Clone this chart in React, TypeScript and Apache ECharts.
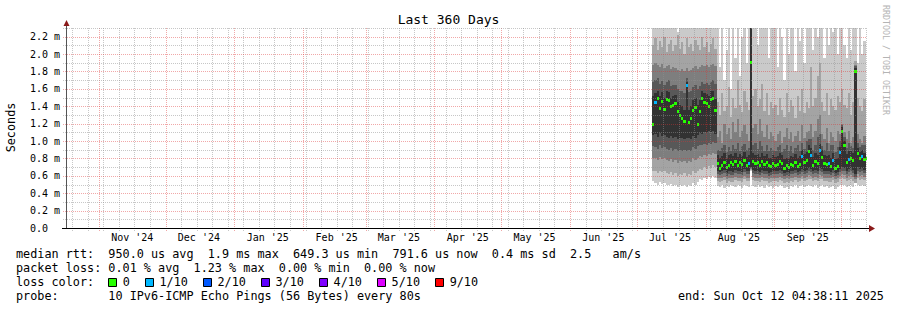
import { useEffect, useRef } from 'react';
import * as echarts from 'echarts';

// ---------------- data ----------------
const TITLE = 'Last 360 Days';
const Y_AXIS_TITLE = 'Seconds';
const WATERMARK = 'RRDTOOL / TOBI OETIKER';
const DAY_MS = 86400000;
const END_TIME = Date.UTC(2025, 9, 12, 4, 38, 11);
const SPAN_DAYS = 360;
const START_TIME = END_TIME - SPAN_DAYS * DAY_MS;
const DATA_START = Date.UTC(2025, 6, 8); // first daily sample

const MONTH_LABELS = ["Nov '24", "Dec '24", "Jan '25", "Feb '25", "Mar '25", "Apr '25", "May '25", "Jun '25", "Jul '25", "Aug '25", "Sep '25"];
const Y_MAX = 2.3; // ms
const Y_TICKS = [0, 0.2, 0.4, 0.6, 0.8, 1.0, 1.2, 1.4, 1.6, 1.8, 2.0, 2.2];

// sorted ping ranks (ms), one value per day, Jul 8 .. Oct 12 2025
const P1 = [
  0.54, 0.52, 0.50, 0.53, 0.51, 0.52, 0.50, 0.49, 0.51, 0.48, 0.50, 0.47, 0.49, 0.48, 0.50, 0.47, 0.49, 0.48, 0.52, 0.50, 0.53, 0.56, 0.55, 0.58, 0.56, 0.59, 0.57, 0.60, 0.58,
  0.48, 0.47, 0.49, 0.46, 0.48, 0.47, 0.49, 0.48, 0.47, 0.49, 0.48, 0.46, 0.49, 0.48, 0.47, 0.66,
  0.48, 0.47, 0.49, 0.47, 0.48, 0.46, 0.49, 0.47, 0.48, 0.46,
  0.48, 0.47, 0.49, 0.48, 0.46, 0.47, 0.45, 0.48, 0.47, 0.49, 0.46, 0.48, 0.49, 0.47, 0.48, 0.49,
  0.48, 0.47, 0.49, 0.46, 0.48, 0.49, 0.47, 0.48, 0.46, 0.47, 0.48, 0.45, 0.47, 0.49,
  0.50, 0.49, 0.47, 0.48, 0.49, 0.47, 0.52, 0.50, 0.48, 0.49, 0.48, 0.49,
];
const P2 = [
  0.66, 0.65, 0.63, 0.66, 0.64, 0.65, 0.63, 0.62, 0.64, 0.61, 0.63, 0.60, 0.62, 0.61, 0.63, 0.60, 0.62, 0.61, 0.65, 0.63, 0.66, 0.68, 0.67, 0.70, 0.68, 0.71, 0.69, 0.72, 0.70,
  0.54, 0.53, 0.54, 0.55, 0.52, 0.54, 0.53, 0.53, 0.55, 0.54, 0.54, 0.53, 0.56, 0.54, 0.54, 0.67,
  0.55, 0.54, 0.54, 0.53, 0.55, 0.54, 0.54, 0.52, 0.53, 0.54,
  0.54, 0.53, 0.55, 0.54, 0.52, 0.53, 0.52, 0.54, 0.53, 0.55, 0.53, 0.54, 0.56, 0.54, 0.55, 0.56,
  0.56, 0.54, 0.55, 0.54, 0.56, 0.56, 0.54, 0.54, 0.53, 0.53, 0.55, 0.52, 0.53, 0.56,
  0.57, 0.56, 0.54, 0.55, 0.56, 0.54, 0.52, 0.57, 0.55, 0.56, 0.55, 0.55,
];
const P3 = [
  0.81, 0.80, 0.78, 0.82, 0.79, 0.80, 0.78, 0.77, 0.79, 0.76, 0.78, 0.75, 0.77, 0.76, 0.77, 0.75, 0.77, 0.76, 0.80, 0.78, 0.81, 0.83, 0.82, 0.84, 0.83, 0.85, 0.84, 0.86, 0.85,
  0.58, 0.57, 0.58, 0.59, 0.56, 0.58, 0.57, 0.57, 0.59, 0.58, 0.58, 0.57, 0.60, 0.58, 0.58, 0.68,
  0.59, 0.58, 0.58, 0.57, 0.59, 0.58, 0.58, 0.56, 0.57, 0.58,
  0.58, 0.58, 0.59, 0.58, 0.56, 0.57, 0.56, 0.58, 0.58, 0.59, 0.57, 0.58, 0.60, 0.58, 0.59, 0.61,
  0.60, 0.58, 0.59, 0.58, 0.61, 0.60, 0.58, 0.58, 0.58, 0.57, 0.59, 0.56, 0.57, 0.60,
  0.62, 0.61, 0.58, 0.60, 0.61, 0.59, 0.56, 0.62, 0.60, 0.61, 0.59, 0.60,
];
const P4 = [
  0.94, 0.93, 0.91, 0.95, 0.92, 0.93, 0.91, 0.90, 0.92, 0.89, 0.91, 0.88, 0.90, 0.89, 0.90, 0.88, 0.90, 0.89, 0.93, 0.91, 0.94, 0.96, 0.95, 0.97, 0.96, 0.98, 0.97, 0.99, 0.98,
  0.62, 0.61, 0.62, 0.63, 0.60, 0.62, 0.61, 0.61, 0.63, 0.62, 0.62, 0.61, 0.64, 0.62, 0.62, 0.69,
  0.63, 0.62, 0.62, 0.61, 0.63, 0.62, 0.62, 0.60, 0.61, 0.62,
  0.62, 0.62, 0.63, 0.62, 0.60, 0.61, 0.60, 0.62, 0.62, 0.63, 0.61, 0.62, 0.64, 0.62, 0.63, 0.65,
  0.64, 0.62, 0.63, 0.62, 0.65, 0.64, 0.62, 0.62, 0.62, 0.61, 0.63, 0.60, 0.61, 0.64,
  0.66, 0.65, 0.62, 0.64, 0.65, 0.63, 0.59, 0.66, 0.64, 0.65, 0.63, 0.64,
];
const P5 = [
  1.07, 1.08, 1.05, 1.09, 1.06, 1.07, 1.05, 1.04, 1.06, 1.03, 1.05, 1.02, 1.04, 1.03, 1.02, 1.04, 1.03, 1.02, 1.06, 1.04, 1.07, 1.09, 1.08, 1.10, 1.09, 1.11, 1.10, 1.12, 1.08,
  0.66, 0.64, 0.65, 0.67, 0.63, 0.66, 0.65, 0.64, 0.67, 0.65, 0.66, 0.64, 0.68, 0.65, 0.66, 0.70,
  0.67, 0.65, 0.66, 0.64, 0.67, 0.65, 0.66, 0.63, 0.64, 0.66,
  0.65, 0.66, 0.67, 0.65, 0.63, 0.64, 0.63, 0.66, 0.65, 0.67, 0.64, 0.65, 0.68, 0.66, 0.67, 0.69,
  0.68, 0.65, 0.67, 0.66, 0.69, 0.68, 0.66, 0.65, 0.66, 0.64, 0.67, 0.63, 0.64, 0.68,
  0.70, 0.69, 0.66, 0.68, 0.69, 0.67, 0.62, 0.70, 0.68, 0.69, 0.67, 0.68,
];
const P6 = [
  1.52, 1.55, 1.58, 1.52, 1.56, 1.50, 1.57, 1.56, 1.50, 1.52, 1.53, 1.45, 1.42, 1.40, 1.36, 1.68, 1.36, 1.40, 1.47, 1.50, 1.42, 1.47, 1.58, 1.55, 1.54, 1.52, 1.57, 1.58, 1.48,
  0.84, 0.80, 0.83, 0.86, 0.81, 0.84, 0.85, 0.83, 0.86, 0.82, 0.85, 0.83, 0.87, 0.82, 0.84, 2.40,
  0.86, 0.84, 0.85, 0.82, 0.86, 0.83, 0.85, 0.81, 0.80, 0.84,
  0.82, 0.83, 0.86, 0.84, 0.79, 0.81, 0.80, 0.83, 0.82, 0.85, 0.80, 0.83, 0.90, 0.85, 0.87, 0.95,
  0.92, 0.82, 0.86, 0.84, 0.97, 0.90, 0.84, 0.83, 0.84, 0.80, 0.86, 0.79, 0.80, 0.93,
  1.16, 1.00, 0.85, 0.88, 0.88, 0.86, 1.84, 0.92, 0.87, 0.90, 0.86, 0.87,
];
const P7 = [
  1.68, 1.70, 1.72, 1.66, 1.69, 1.64, 1.68, 1.70, 1.63, 1.65, 1.64, 1.60, 1.58, 1.57, 1.55, 1.72, 1.56, 1.58, 1.62, 1.64, 1.60, 1.63, 1.68, 1.66, 1.67, 1.64, 1.68, 1.70, 1.66,
  0.90, 0.88, 0.92, 0.95, 0.87, 0.93, 0.89, 0.96, 0.91, 0.98, 0.88, 0.94, 0.97, 0.90, 0.92, 2.40,
  0.95, 0.98, 0.91, 1.00, 0.94, 0.89, 0.96, 0.88, 0.92, 0.90,
  0.89, 0.93, 0.95, 0.87, 0.91, 0.96, 0.88, 0.94, 0.86, 0.92, 0.95, 0.89, 0.98, 0.91, 1.00, 1.02,
  1.02, 0.90, 0.96, 1.05, 1.08, 0.94, 0.90, 0.98, 0.88, 0.95, 0.96, 0.87, 0.93, 1.00,
  1.18, 1.05, 0.92, 0.98, 0.94, 0.92, 1.86, 0.98, 0.93, 0.96, 0.95, 0.92,
];
const P8 = [
  1.88, 1.90, 1.87, 1.85, 1.89, 1.84, 1.86, 1.88, 1.83, 1.85, 1.84, 1.82, 1.80, 1.83, 1.81, 1.84, 1.80, 1.82, 1.84, 1.86, 1.83, 1.85, 1.87, 1.86, 1.88, 1.85, 1.87, 1.89, 1.86,
  1.05, 1.12, 0.98, 1.20, 1.08, 1.15, 1.02, 1.22, 1.10, 1.25, 1.05, 1.12, 1.18, 1.08, 1.00, 2.40,
  1.15, 1.20, 1.08, 1.25, 1.12, 1.05, 1.18, 1.02, 1.10, 1.06,
  1.00, 1.08, 1.12, 0.98, 1.05, 1.15, 1.02, 1.10, 0.99, 1.06, 1.12, 1.00, 1.18, 1.04, 1.10, 1.12,
  1.20, 1.05, 1.12, 1.25, 1.30, 1.08, 1.02, 1.15, 0.98, 1.10, 1.05, 1.00, 1.12, 1.08,
  1.20, 1.10, 1.02, 1.12, 0.98, 1.05, 1.88, 1.08, 1.02, 0.98, 1.06, 1.00,
];
const P9 = [
  2.10, 2.18, 2.05, 2.15, 2.08, 2.20, 2.02, 2.12, 2.16, 2.04, 2.10, 2.22, 2.06, 2.14, 2.00, 2.18, 2.08, 2.12, 2.03, 2.16, 2.10, 2.05, 2.20, 2.08, 2.14, 2.02, 2.12, 2.18, 2.06,
  1.45, 1.30, 1.55, 1.35, 1.40, 1.62, 1.28, 1.50, 1.38, 1.70, 1.42, 1.33, 1.58, 1.45, 1.36, 2.40,
  1.52, 1.60, 1.40, 1.48, 1.66, 1.35, 1.55, 1.30, 1.45, 1.38,
  1.42, 1.30, 1.50, 1.36, 1.28, 1.55, 1.33, 1.47, 1.40, 1.26, 1.52, 1.35, 1.60, 1.32, 1.45, 1.38,
  1.85, 1.40, 1.50, 1.75, 1.90, 1.45, 1.35, 1.55, 1.30, 1.48, 1.40, 1.36, 1.52, 1.45,
  1.60, 1.42, 1.38, 1.55, 1.30, 1.45, 1.92, 1.50, 1.40, 1.35, 1.48, 1.32,
];
const P10 = [
  2.40, 2.40, 2.40, 2.40, 2.40, 2.40, 2.40, 2.40, 2.40, 2.40, 2.40, 2.25, 2.30, 2.40, 2.40, 2.40, 2.40, 2.40, 2.40, 2.40, 2.40, 2.40, 2.40, 2.40, 2.40, 2.40, 2.40, 2.40, 2.40,
  2.40, 1.85, 2.40, 1.70, 2.05, 2.40, 1.60, 2.40, 1.95, 2.40, 1.75, 2.20, 2.40, 1.90, 2.40, 2.40,
  2.40, 2.40, 2.10, 2.40, 2.40, 2.30, 2.40, 1.95, 2.40, 2.40,
  2.40, 1.85, 2.40, 2.20, 1.70, 2.40, 2.00, 2.40, 2.40, 1.80, 2.40, 2.15, 2.40, 1.90, 2.40, 2.40,
  2.40, 2.05, 2.40, 2.20, 2.40, 2.40, 1.95, 2.40, 2.10, 2.40, 2.25, 2.40, 2.00, 2.40,
  2.40, 2.10, 1.95, 2.40, 2.05, 2.40, 2.40, 1.90, 2.40, 2.00, 2.15, 2.40,
];
const MEDIAN = [
  1.20, 1.45, 1.49, 1.38, 1.46, 1.37, 1.48, 1.47, 1.40, 1.42, 1.44, 1.34, 1.30, 1.27, 1.23, 1.65, 1.22, 1.27, 1.36, 1.39, 1.20, 1.35, 1.50, 1.45, 1.44, 1.40, 1.48, 1.50, 1.36,
  0.75, 0.69, 0.72, 0.76, 0.70, 0.73, 0.76, 0.74, 0.77, 0.72, 0.76, 0.74, 0.78, 0.73, 0.75, 1.91,
  0.77, 0.75, 0.76, 0.73, 0.77, 0.74, 0.76, 0.72, 0.71, 0.75,
  0.73, 0.74, 0.77, 0.75, 0.69, 0.72, 0.70, 0.74, 0.73, 0.76, 0.71, 0.74, 0.83, 0.76, 0.78, 0.88,
  0.84, 0.73, 0.77, 0.75, 0.90, 0.82, 0.75, 0.74, 0.75, 0.71, 0.78, 0.69, 0.71, 0.87,
  1.11, 0.96, 0.76, 0.79, 0.80, 0.78, 1.81, 0.86, 0.80, 0.83, 0.79, 0.80,
];
// lost pings out of 10, per day
const LOSS = [
  0, 1, 0, 0, 0, 0, 0, 0, 0, 0,
  0, 0, 0, 0, 0, 1, 0, 0, 0, 0,
  0, 0, 0, 0, 0, 0, 0, 0, 0, 0,
  0, 0, 0, 0, 0, 0, 0, 0, 0, 0,
  0, 0, 0, 1, 0, 0, 0, 0, 0, 0,
  0, 0, 0, 0, 0, 0, 0, 0, 0, 0,
  0, 0, 0, 0, 0, 0, 0, 1, 0, 0,
  0, 1, 0, 0, 0, 1, 0, 0, 0, 1,
  0, 1, 0, 0, 1, 0, 0, 0, 1, 0,
  0, 0, 0, 0, 1, 0, 0,
];

const LOSS_LEVELS = [0, 1, 2, 3, 4, 5, 9];
const LOSS_LABELS = ['0', '1/10', '2/10', '3/10', '4/10', '5/10', '9/10'];
const LOSS_COLORS = ['#26ff00', '#00b8ff', '#0059ff', '#5e00ff', '#7e00ff', '#dd00ff', '#ff0000'];

const STAT_LINES = [
  'median rtt:  950.0 us avg  1.9 ms max  649.3 us min  791.6 us now  0.4 ms sd  2.5   am/s',
  'packet loss: 0.01 % avg  1.23 % max  0.00 % min  0.00 % now',
];
const LOSS_TITLE = 'loss color:';
const PROBE_LINE = 'probe:       10 IPv6-ICMP Echo Pings (56 Bytes) every 80s';
const END_LINE = 'end: Sun Oct 12 04:38:11 2025';

// ---------------- style / layout ----------------
const GL = 66, GT = 28, GW = 800, GH = 200;
const MONO = '"DejaVu Sans Mono", monospace';
const LEG_FS = 11.8;
const CHAR_W = 7.11;
const SMOKE_COLORS = ['#cacaca', '#a4a4a4', '#7e7e7e', '#585858', '#323232'];
const MAJOR_GRID = 'rgba(222,48,48,0.42)';
const MINOR_GRID = 'rgba(143,143,143,0.5)';

const nb = (s: string) => s.replace(/ /g, '\u00a0');

function buildOption() {
  const times = MEDIAN.map((_, i) => DATA_START + i * DAY_MS);
  const pings = [P1, P2, P3, P4, P5, P6, P7, P8, P9, P10];
  const clampY = (v: number) => Math.min(v, Y_MAX);
  const monthLabelTimes = MONTH_LABELS.map((_, k) => Date.UTC(2024, 10 + k, 16));
  const monthStarts: number[] = [];
  for (let k = 0; k < 12; k++) monthStarts.push(Date.UTC(2024, 10 + k, 1));
  const weekLines: number[] = [];
  for (let t = Date.UTC(2024, 9, 20); t <= END_TIME; t += 7 * DAY_MS) {
    if (monthStarts.indexOf(t) < 0) weekLines.push(t);
  }
  const hLines: number[][] = [];
  for (let k = 1; k <= Math.round(Y_MAX * 10); k++) hLines.push([START_TIME, k / 10, k % 2 === 0 ? 1 : 0]);
  const vLines: number[][] = [
    ...weekLines.map((t) => [t, 0, 0]),
    ...monthStarts.map((t) => [t, 0, 1]),
  ];

  const smokeSeries = SMOKE_COLORS.map((color, k) => ({
    type: 'custom',
    coordinateSystem: 'cartesian2d',
    silent: true,
    z: 2 + k,
    data: times.map((t, i) => [t, pings[k][i], pings[9 - k][i]]),
    encode: { x: 0, y: [1, 2] },
    renderItem: (_p: any, api: any) => {
      const t = api.value(0);
      const a = api.coord([t, clampY(api.value(1))]);
      const b = api.coord([Math.min(t + DAY_MS, END_TIME), clampY(api.value(2))]);
      const x0 = Math.round(a[0]);
      const x1 = Math.round(b[0]);
      const yb = Math.round(a[1]);
      const yt = Math.round(b[1]);
      return {
        type: 'rect',
        shape: { x: x0, y: yt, width: Math.max(0, x1 - x0), height: Math.max(0, yb - yt) },
        style: { fill: color },
      };
    },
  }));

  const medianSeries = {
    type: 'custom',
    coordinateSystem: 'cartesian2d',
    silent: true,
    z: 8,
    data: times.map((t, i) => [t, MEDIAN[i], LOSS[i]]),
    encode: { x: 0, y: 1 },
    renderItem: (_p: any, api: any) => {
      const t = api.value(0);
      const a = api.coord([t, api.value(1)]);
      const b = api.coord([Math.min(t + DAY_MS, END_TIME), api.value(1)]);
      const x0 = Math.round(a[0]);
      const x1 = Math.round(b[0]);
      const yc = Math.round(a[1]);
      const idx = Math.max(0, LOSS_LEVELS.indexOf(api.value(2)));
      return {
        type: 'rect',
        shape: { x: x0, y: yc - 1, width: Math.max(1, x1 - x0), height: 3 },
        style: { fill: LOSS_COLORS[idx] },
      };
    },
  };

  const vGridSeries = {
    type: 'custom',
    coordinateSystem: 'cartesian2d',
    silent: true,
    z: 10,
    data: vLines,
    encode: { x: 0, y: 1 },
    renderItem: (_p: any, api: any) => {
      const x = Math.round(api.coord([api.value(0), 0])[0]) + 0.5;
      const yb = api.coord([START_TIME, 0])[1];
      const yt = api.coord([START_TIME, Y_MAX])[1];
      return {
        type: 'line',
        shape: { x1: x, y1: yb + 3, x2: x, y2: yt },
        style: { stroke: api.value(2) ? MAJOR_GRID : MINOR_GRID, lineWidth: 1, lineDash: [1, 1] },
      };
    },
  };

  const hGridSeries = {
    type: 'custom',
    coordinateSystem: 'cartesian2d',
    silent: true,
    z: 10,
    data: hLines,
    encode: { x: 0, y: 1 },
    renderItem: (_p: any, api: any) => {
      const y = Math.round(api.coord([START_TIME, api.value(1)])[1]) + 0.5;
      const x0 = api.coord([START_TIME, 0])[0];
      const x1 = api.coord([END_TIME, 0])[0];
      return {
        type: 'line',
        shape: { x1: x0 - 3, y1: y, x2: x1, y2: y },
        style: { stroke: api.value(2) ? MAJOR_GRID : MINOR_GRID, lineWidth: 1, lineDash: [1, 1] },
      };
    },
  };

  const txt = (text: string, x: number, y: number, extra: any = {}) => ({
    type: 'text',
    x,
    y,
    z: 100,
    silent: true,
    rotation: extra.rotation || 0,
    style: {
      text: nb(text),
      x: 0,
      y: 0,
      font: `${extra.size || LEG_FS}px ${MONO}`,
      fill: extra.color || '#000',
      align: extra.align || 'left',
      textAlign: extra.align || 'left',
      verticalAlign: 'middle',
      textVerticalAlign: 'middle',
    },
  });

  const graphics: any[] = [];
  graphics.push(txt(TITLE, 448.5, 19.5, { size: 13, align: 'center' }));
  graphics.push(txt(Y_AXIS_TITLE, 11, 127.5, { size: 11.8, align: 'center', rotation: Math.PI / 2 }));
  graphics.push(txt(WATERMARK, 886, 60, { size: 8.3, align: 'center', rotation: -Math.PI / 2, color: '#b4b4b4' }));

  // axes
  graphics.push({ type: 'line', z: 100, silent: true, shape: { x1: GL + 0.5, y1: GT + GH, x2: GL + 0.5, y2: GT - 4 }, style: { stroke: '#555', lineWidth: 1 } });
  graphics.push({ type: 'line', z: 100, silent: true, shape: { x1: GL - 4, y1: GT + GH + 0.5, x2: GL + GW + 4, y2: GT + GH + 0.5 }, style: { stroke: '#000', lineWidth: 1 } });
  graphics.push({ type: 'polygon', z: 101, silent: true, shape: { points: [[GL - 2.5, GT - 2], [GL + 3.5, GT - 2], [GL + 0.5, GT - 8]] }, style: { fill: '#8b1a1a' } });
  graphics.push({ type: 'polygon', z: 101, silent: true, shape: { points: [[GL + GW + 3, GT + GH - 3], [GL + GW + 3, GT + GH + 4], [GL + GW + 9, GT + GH + 0.5]] }, style: { fill: '#8b1a1a' } });

  // legend
  const LX = 16;
  const rows = [254, 268, 282, 296];
  graphics.push(txt(STAT_LINES[0], LX, rows[0]));
  graphics.push(txt(STAT_LINES[1], LX, rows[1]));
  graphics.push(txt(LOSS_TITLE, LX, rows[2]));
  let bx = LX + 13 * CHAR_W - 0.5;
  LOSS_LABELS.forEach((lab, i) => {
    graphics.push({
      type: 'rect', z: 100, silent: true,
      shape: { x: Math.round(bx) + 0.5, y: 278.5, width: 8, height: 8 },
      style: { fill: LOSS_COLORS[i], stroke: '#000', lineWidth: 1 },
    });
    const tx = bx + 14.8;
    graphics.push(txt(lab, tx, rows[2]));
    bx = tx + lab.length * CHAR_W + 14.8;
  });
  graphics.push(txt(PROBE_LINE, LX, rows[3]));
  graphics.push(txt(END_LINE, 678, rows[3]));

  return {
    animation: false,
    backgroundColor: '#ffffff',
    grid: { left: GL, top: GT, width: GW, height: GH, containLabel: false },
    xAxis: {
      type: 'value',
      min: START_TIME,
      max: END_TIME,
      axisLine: { show: false },
      axisTick: { show: false },
      splitLine: { show: false },
      axisLabel: {
        customValues: monthLabelTimes,
        formatter: (v: number) => {
          const i = monthLabelTimes.findIndex((m) => Math.abs(m - v) < 1000);
          return i >= 0 ? MONTH_LABELS[i] : '';
        },
        fontFamily: MONO,
        fontSize: 10,
        color: '#000',
        margin: 4,
        hideOverlap: false,
      },
    },
    yAxis: {
      type: 'value',
      min: 0,
      max: Y_MAX,
      axisLine: { show: false },
      axisTick: { show: false },
      splitLine: { show: false },
      axisLabel: {
        customValues: Y_TICKS,
        formatter: (v: number) => (Math.abs(v) < 1e-9 ? '0.0' : v.toFixed(1) + ' m'),
        align: 'left',
        margin: 36,
        fontFamily: MONO,
        fontSize: 10,
        color: '#000',
      },
    },
    graphic: { elements: graphics },
    series: [...smokeSeries, medianSeries, vGridSeries, hGridSeries],
  };
}

export default function App() {
  const ref = useRef<HTMLDivElement>(null);
  useEffect(() => {
    if (!ref.current) return;
    const chart = echarts.init(ref.current, null, { renderer: 'svg' });
    chart.setOption(buildOption() as any);
    return () => chart.dispose();
  }, []);
  return (
    <div
      ref={ref}
      style={{ position: 'fixed', left: 0, top: 0, width: 897, height: 310, background: '#ffffff' }}
    />
  );
}
